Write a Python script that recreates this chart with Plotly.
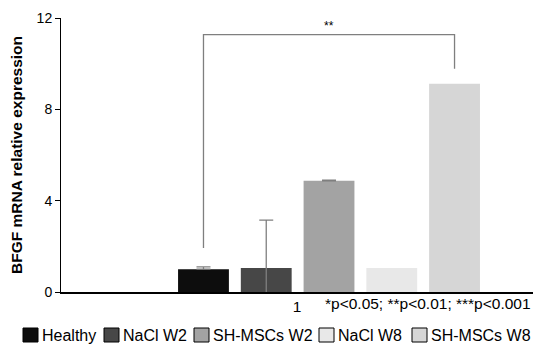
import plotly.graph_objects as go

groups = ["Healthy", "NaCl W2", "SH-MSCs W2", "NaCl W8", "SH-MSCs W8"]
values = [1.0, 1.05, 4.87, 1.05, 9.12]
errors_plus = [0.1, 2.1, 0.03, 0.0, 0.0]
errors_minus = [0.0, 2.1, 0.0, 0.0, 0.0]
colors = ["#0d0d0d", "#474747", "#a3a3a3", "#e8e8e8", "#d6d6d6"]
y_ticks = [0, 4, 8, 12]
category_label = "1"
sig_pair = (0, 4)
sig_levels = (1.93, 11.27, 9.78)
sig_text = "**"
p_note = "*p<0.05; **p<0.01; ***p<0.001"

# ---- layout constants (pixels) ----
W, H = 536, 345
ML, MR, MT, MB = 61, 3, 18, 53
x_range = [-2.27, 5.25]
font = "Liberation Sans, Arial, sans-serif"
legend_swatch_x = [23, 104, 194, 319, 412]
legend_y_top, legend_y_bot = 328, 342
swatch_w = 15

PW, PH = W - ML - MR, H - MT - MB


def px_x(X):
    return (X - ML) / PW


def px_y(Y):
    return (H - MB - Y) / PH


fig = go.Figure()
for i, (g, v, ep, em, c) in enumerate(zip(groups, values, errors_plus, errors_minus, colors)):
    fig.add_trace(go.Bar(
        x=[i], y=[v], width=0.81, marker=dict(color=c, line=dict(width=0)),
        error_y=dict(type="data", symmetric=False, array=[ep], arrayminus=[em],
                     visible=ep > 0, color="#7f7f7f", thickness=1.3, width=7),
        showlegend=False, name=g))

# manual legend
for g, c, sx in zip(groups, colors, legend_swatch_x):
    fig.add_shape(type="rect", xref="paper", yref="paper",
                  x0=px_x(sx), x1=px_x(sx + swatch_w),
                  y0=px_y(legend_y_bot), y1=px_y(legend_y_top),
                  fillcolor=c, line=dict(color="black", width=1))
    fig.add_annotation(xref="paper", yref="paper", x=px_x(sx + swatch_w + 1.5),
                       y=px_y((legend_y_top + legend_y_bot) / 2), xanchor="left",
                       yanchor="middle", text=g, showarrow=False,
                       font=dict(size=16, color="black", family=font))

x0, x1 = sig_pair
yl, yt, yr = sig_levels
fig.add_shape(type="path", xref="x", yref="y",
              path=f"M {x0},{yl} L {x0},{yt} L {x1},{yt} L {x1},{yr}",
              line=dict(color="#7f7f7f", width=1.3))
fig.add_annotation(x=(x0 + x1) / 2, y=yt, text=sig_text, showarrow=False,
                   yanchor="bottom", yshift=0, font=dict(size=12, color="black", family=font))
fig.add_annotation(xref="paper", yref="paper", x=1.0, y=0, xanchor="right", yanchor="top",
                   yshift=-1, text=p_note, showarrow=False,
                   font=dict(size=15.5, color="black", family=font))

fig.update_layout(
    width=W, height=H, margin=dict(l=ML, r=MR, t=MT, b=MB),
    paper_bgcolor="white", plot_bgcolor="white",
    font=dict(family=font, color="black"),
    barmode="overlay", showlegend=False,
    xaxis=dict(range=x_range, showline=True, linecolor="black", linewidth=1.5,
               tickvals=[(x_range[0] + x_range[1]) / 2], ticktext=[category_label],
               ticks="", showgrid=False, zeroline=False, fixedrange=True, automargin=False,
               tickfont=dict(size=15.5, family=font)),
    yaxis=dict(range=[0, 12], tickvals=y_ticks, showline=True, linecolor="black",
               linewidth=1, ticks="outside", ticklen=5, tickcolor="black",
               showgrid=False, zeroline=False, automargin=False,
               tickfont=dict(size=14, family=font),
               title=dict(text="<b>BFGF mRNA relative expression</b>",
                          font=dict(size=15.5, family=font), standoff=10)),
)

fig.write_html("out.html", config={"displayModeBar": False},
               post_script="document.body.style.margin='0';document.body.style.padding='0';")
